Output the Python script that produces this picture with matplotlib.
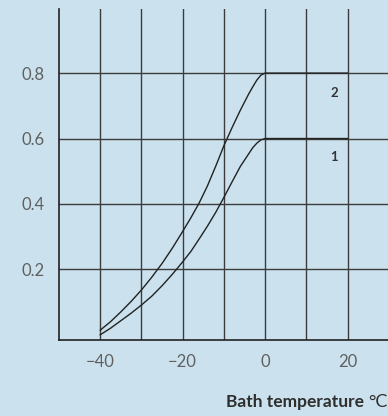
import matplotlib
matplotlib.use('Agg')
import matplotlib.pyplot as plt

# curve values (bath temperature in C)
temp_1 = [-40, -37.5, -35, -32.5, -30, -27.5, -25, -22.5, -20, -18, -16, -14, -12, -10,
          -8, -6, -4, -3, -2, -1, 0, 20]
val_1 = [0.0, 0.02, 0.043, 0.066, 0.091, 0.118, 0.15, 0.185, 0.223, 0.255, 0.293, 0.332,
         0.374, 0.42, 0.468, 0.515, 0.553, 0.572, 0.586, 0.596, 0.6, 0.6]
temp_2 = [-40, -37.5, -35, -32.5, -30, -27.5, -25, -22.5, -20, -18, -16, -14, -12, -10,
          -8, -6, -4, -3, -2, -1, 0, 20]
val_2 = [0.014, 0.04, 0.07, 0.102, 0.137, 0.176, 0.218, 0.265, 0.316, 0.358, 0.403, 0.455,
         0.515, 0.578, 0.634, 0.687, 0.736, 0.758, 0.779, 0.794, 0.8, 0.8]
curve_labels = ['1', '2']
label_pos = [(16.8, 0.543), (16.8, 0.74)]
xticks = [-40, -20, 0, 20]
yticks = [0.2, 0.4, 0.6, 0.8]

bg = '#cbe2ee'
fig = plt.figure(figsize=(3.88, 4.16), dpi=100, facecolor=bg)
ax = fig.add_axes([59 / 388, 1 - 340 / 416, 1 - 59 / 388, 331 / 416])
ax.set_facecolor(bg)

ax.set_xlim(-50, 29.8)
ax.set_ylim(-0.016, 0.996)

# grid
for gx in range(-40, 30, 10):
    ax.axvline(gx, color='#3c3c3c', lw=1.0, zorder=1)
for gy in yticks:
    ax.axhline(gy, color='#3c3c3c', lw=1.0, zorder=1)

ax.plot(temp_1, val_1, color='#222222', lw=1.0, zorder=3)
ax.plot(temp_2, val_2, color='#222222', lw=1.0, zorder=3)
for lab, (lx, ly) in zip(curve_labels, label_pos):
    ax.text(lx, ly, lab, ha='center', va='center', fontsize=9.5,
            fontweight='bold', color='#333333', family='Lato')

for s in ['top', 'right']:
    ax.spines[s].set_visible(False)
for s in ['left', 'bottom']:
    ax.spines[s].set_color('#222222')
    ax.spines[s].set_linewidth(1.2)

ax.set_xticks(xticks)
ax.set_xticklabels(['\u2212' + str(abs(t)) if t < 0 else str(t) for t in xticks])
ax.set_yticks(yticks)
ax.set_yticklabels([str(t) for t in yticks])
ax.tick_params(length=0, pad=10, labelsize=12, labelcolor='#606060')
for t in ax.get_xticklabels() + ax.get_yticklabels():
    t.set_family('Lato')

fig.text(364 / 388, 1 - 407 / 416, 'Bath temperature', ha='right', va='baseline',
         fontsize=12.5, fontweight='bold', color='#2e2e2e', family='Lato')
fig.text(368 / 388, 1 - 407 / 416, '\u00b0C', ha='left', va='baseline',
         fontsize=13, color='#2e2e2e', family='Lato')

fig.savefig('out.png', dpi=100, facecolor=bg)
